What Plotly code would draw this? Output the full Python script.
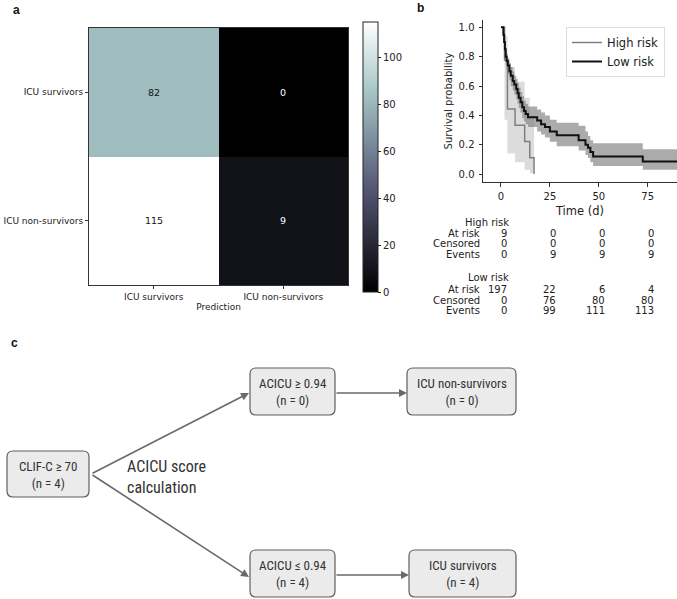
import plotly.graph_objects as go

W, H = 677, 599
def PX(x): return x / W
def PY(y): return 1 - y / H

# ---------------- data: panel a (confusion matrix) ----------------
cm_x = ["ICU survivors", "ICU non-survivors"]   # Prediction
cm_y = ["ICU survivors", "ICU non-survivors"]   # Truth
cm_z = [[82, 0],
        [115, 9]]
cm_zmax = 115
cbar_ticks = [0, 20, 40, 60, 80, 100]

# ---------------- data: panel b (Kaplan-Meier) ----------------
hr_t  = [0, 1.8, 3.3, 7.2, 12.1, 14.7, 16.9]
hr_s  = [1.0, 0.778, 0.444, 0.333, 0.222, 0.111, 0.0]
hr_lo = [1.0, 0.37, 0.14, 0.08, 0.03, 0.006, 0.0]
hr_hi = [1.0, 0.94, 0.73, 0.63, 0.52, 0.40, 0.0]

lr_t  = [0, 1.2, 1.6, 2.0, 2.4, 2.9, 3.5, 4.3, 5.0, 6.0, 6.8, 7.8, 8.5, 9.1, 10.0, 10.9,
         11.8, 12.6, 13.8, 18.5, 20.5, 22.5, 25.0, 28.5, 39.7, 43.2, 44.5, 45.7, 47.1, 72.5, 90.0]
lr_s  = [1.0, 0.95, 0.90, 0.85, 0.80, 0.77, 0.74, 0.70, 0.67, 0.635, 0.61, 0.58, 0.55, 0.52, 0.49, 0.455,
         0.43, 0.41, 0.387, 0.365, 0.34, 0.32, 0.29, 0.265, 0.23, 0.20, 0.18, 0.15, 0.12, 0.085, 0.085]
lr_lo = [1.0, 0.92, 0.86, 0.80, 0.74, 0.71, 0.68, 0.64, 0.60, 0.57, 0.54, 0.51, 0.48, 0.45, 0.42, 0.38,
         0.36, 0.34, 0.32, 0.29, 0.27, 0.25, 0.22, 0.19, 0.16, 0.13, 0.11, 0.08, 0.055, 0.03, 0.03]
lr_hi = [1.0, 0.97, 0.93, 0.89, 0.85, 0.82, 0.79, 0.76, 0.73, 0.70, 0.67, 0.65, 0.62, 0.59, 0.56, 0.53,
         0.50, 0.48, 0.46, 0.44, 0.42, 0.40, 0.37, 0.35, 0.33, 0.29, 0.26, 0.23, 0.21, 0.17, 0.17]

risk_times = [0, 25, 50, 75]
risk_groups = ["High risk", "Low risk"]
risk_rows = ["At risk", "Censored", "Events"]
high_at_risk = [9, 0, 0, 0]
high_censored = [0, 0, 0, 0]
high_events = [0, 9, 9, 9]
low_at_risk = [197, 22, 6, 4]
low_censored = [0, 76, 80, 80]
low_events = [0, 99, 111, 113]

# ---------------- data: panel c (flowchart) ----------------
node_labels = ["CLIF-C \u2265 70", "ACICU \u2265 0.94", "ICU non-survivors", "ACICU \u2264 0.94", "ICU survivors"]
node_counts = [4, 0, 0, 4, 4]
edges = [(0, 1), (0, 3), (1, 2), (3, 4)]
edge_label = "ACICU score<br>calculation"

# ---------------- layout constants (pixels) ----------------
node_boxes = [(7, 451, 89, 497), (250, 368, 335, 415), (407, 368, 516, 415),
              (250, 550, 335, 597), (409, 550, 516, 597)]

MPL = "DejaVu Sans"
NARROW = "Liberation Sans Narrow, Arial Narrow, Roboto Condensed, Roboto, sans-serif"
ARIAL = "Liberation Sans, Arial, sans-serif"

fig = go.Figure()

# bone colormap
bone = [[0.0, "rgb(0,0,0)"], [0.365, "rgb(81,81,113)"], [0.746, "rgb(166,198,198)"], [1.0, "rgb(255,255,255)"]]

fig.add_trace(go.Heatmap(
    x=cm_x, y=cm_y, z=cm_z, zmin=0, zmax=cm_zmax, colorscale=bone,
    xaxis="x", yaxis="y", showscale=True, xgap=0, ygap=0,
    colorbar=dict(x=PX(363), xanchor="left", y=PY(157), yanchor="middle",
                  len=270 / H, lenmode="fraction", thickness=15, thicknessmode="pixels",
                  xpad=0, ypad=0,
                  outlinewidth=1, outlinecolor="#222", tickvals=cbar_ticks, ticks="outside",
                  ticklen=3, tickcolor="#222", tickfont=dict(size=10, family=MPL, color="#222")),
    hoverinfo="skip"))

annotations = []
for i, yl in enumerate(cm_y):
    for j, xl in enumerate(cm_x):
        v = cm_z[i][j]
        annotations.append(dict(x=xl, y=yl, xref="x", yref="y", text=str(v), showarrow=False,
                                xanchor="center", yanchor="middle",
                                font=dict(size=9.5, family=MPL,
                                          color="#111" if v > cm_zmax / 2 else "#fff")))

# KM bands
def band(t, lo, hi, color):
    fig.add_trace(go.Scatter(x=t, y=lo, mode="lines", line=dict(width=0, shape="hv"),
                             xaxis="x2", yaxis="y2", showlegend=False, hoverinfo="skip"))
    fig.add_trace(go.Scatter(x=t, y=hi, mode="lines", line=dict(width=0, shape="hv"),
                             fill="tonexty", fillcolor=color,
                             xaxis="x2", yaxis="y2", showlegend=False, hoverinfo="skip"))

band(lr_t, lr_lo, lr_hi, "rgba(0,0,0,0.33)")
band(hr_t, hr_lo, hr_hi, "rgba(128,128,128,0.28)")

fig.add_trace(go.Scatter(x=hr_t, y=hr_s, mode="lines", name="High risk",
                         line=dict(color="#7f7f7f", width=1.5, shape="hv"),
                         xaxis="x2", yaxis="y2"))
fig.add_trace(go.Scatter(x=lr_t, y=lr_s, mode="lines", name="Low risk",
                         line=dict(color="#111", width=2, shape="hv"),
                         xaxis="x2", yaxis="y2"))

# risk table
group_tables = [
    (high_at_risk, high_censored, high_events),
    (low_at_risk, low_censored, low_events),
]
group_header_y = [222, 278]
row_dy = [11, 22, 32.5]
tfont = dict(size=10, family=MPL, color="#222")
for g, name in enumerate(risk_groups):
    y0 = group_header_y[g]
    annotations.append(dict(x=PX(511), y=PY(y0), xref="paper", yref="paper", text=name,
                            showarrow=False, xanchor="right", yanchor="middle", font=tfont))
    for r, rname in enumerate(risk_rows):
        yy = PY(y0 + row_dy[r])
        annotations.append(dict(x=PX(482), y=yy, xref="paper", yref="paper", text=rname,
                                showarrow=False, xanchor="right", yanchor="middle", font=tfont))
        for k, tt in enumerate(risk_times):
            annotations.append(dict(x=tt, y=yy, xref="x2", yref="paper",
                                    text=str(group_tables[g][r][k]), showarrow=False,
                                    xanchor="right", yanchor="middle", xshift=8.5, font=tfont))

# flowchart
shapes = []
def rrect(x0, y0, x1, y1, r=6):
    pts = (f"M {PX(x0+r)},{PY(y0)} L {PX(x1-r)},{PY(y0)} Q {PX(x1)},{PY(y0)} {PX(x1)},{PY(y0+r)} "
           f"L {PX(x1)},{PY(y1-r)} Q {PX(x1)},{PY(y1)} {PX(x1-r)},{PY(y1)} "
           f"L {PX(x0+r)},{PY(y1)} Q {PX(x0)},{PY(y1)} {PX(x0)},{PY(y1-r)} "
           f"L {PX(x0)},{PY(y0+r)} Q {PX(x0)},{PY(y0)} {PX(x0+r)},{PY(y0)} Z")
    return pts

for (x0, y0, x1, y1), lab, n in zip(node_boxes, node_labels, node_counts):
    shapes.append(dict(type="path", path=rrect(x0, y0, x1, y1), xref="paper", yref="paper",
                       fillcolor="#ebebeb", line=dict(color="#5f5f5f", width=1.2), layer="above"))
    annotations.append(dict(x=PX((x0 + x1) / 2), y=PY((y0 + y1) / 2 + 0.5), xref="paper", yref="paper",
                            text=f"{lab}<br>(n = {n})", showarrow=False, align="center",
                            xanchor="center", yanchor="middle",
                            font=dict(size=13, family=NARROW, color="#333")))

for a, b in edges:
    sx0, sy0, sx1, sy1 = node_boxes[a]
    tx0, ty0, tx1, ty1 = node_boxes[b]
    if a == 0:
        start = (sx1 + 2, (sy0 + sy1) / 2)
        end = (tx0 - 1, ty0 + 25 if ty0 < 450 else ty0 + 27)
    else:
        start = (sx1, (sy0 + sy1) / 2 + 1.5)
        end = (tx0, (ty0 + ty1) / 2 + 1.5)
    annotations.append(dict(x=PX(end[0]), y=PY(end[1]), xref="paper", yref="paper",
                            ax=start[0] - end[0], ay=start[1] - end[1], axref="pixel", ayref="pixel",
                            showarrow=True, arrowhead=2, arrowsize=1, arrowwidth=1.6,
                            arrowcolor="#6a6a6a", standoff=0, text=""))

annotations.append(dict(x=PX(125), y=PY(477), xref="paper", yref="paper", text=edge_label,
                        showarrow=False, xanchor="left", yanchor="middle", align="left",
                        font=dict(size=16, family=NARROW, color="#333")))

# panel labels
for lab, x, y in [("a", 16, 10), ("b", 420, 8), ("c", 14, 343)]:
    annotations.append(dict(x=PX(x), y=PY(y), xref="paper", yref="paper", text=f"<b>{lab}</b>",
                            showarrow=False, xanchor="center", yanchor="middle",
                            font=dict(size=12, family=ARIAL, color="#111")))

axfont = dict(size=9, family=MPL, color="#222")
kmfont = dict(size=10, family=MPL, color="#222")
fig.update_layout(
    width=W, height=H, margin=dict(l=0, r=0, t=0, b=0, autoexpand=False),
    paper_bgcolor="white", plot_bgcolor="white",
    font=dict(family=MPL, color="#222"),
    xaxis=dict(domain=[PX(89), PX(348)], anchor="y", showline=True, mirror=True, linecolor="#333",
               linewidth=1, ticks="outside", ticklen=3, tickcolor="#333", tickfont=axfont,
               title=dict(text="Prediction", font=axfont, standoff=2), showgrid=False, zeroline=False),
    yaxis=dict(domain=[PY(285), PY(28)], anchor="x", autorange="reversed", showline=True, mirror=True,
               linecolor="#333", linewidth=1, ticks="outside", ticklen=3, tickcolor="#333",
               tickfont=axfont, showgrid=False, zeroline=False),
    xaxis2=dict(domain=[PX(483), 1.0], anchor="y2", range=[-9.2, 90], tickvals=risk_times,
                showline=True, linecolor="#333", linewidth=1, ticks="outside", ticklen=3.5,
                tickcolor="#333", tickfont=kmfont, ticklabelstandoff=1,
                title=dict(text="Time (d)", font=dict(size=11.5, family=MPL, color="#222"), standoff=6),
                showgrid=False, zeroline=False),
    yaxis2=dict(domain=[PY(182), PY(20)], anchor="x2", range=[-0.054, 1.05],
                tickvals=[0, 0.2, 0.4, 0.6, 0.8, 1.0], tickformat=".1f",
                showline=True, linecolor="#333", linewidth=1, ticks="outside", ticklen=3.5,
                tickcolor="#333", tickfont=kmfont, ticklabelstandoff=2,
                title=dict(text="Survival probability", font=dict(size=10, family=MPL, color="#222"),
                           standoff=4),
                showgrid=False, zeroline=False),
    legend=dict(x=PX(566), y=PY(27), xanchor="left", yanchor="top", bgcolor="rgba(255,255,255,0.85)",
                bordercolor="#dddddd", borderwidth=1, font=dict(size=11.5, family=MPL, color="#222"),
                itemwidth=30, tracegroupgap=0, traceorder="normal"),
    annotations=annotations, shapes=shapes, showlegend=True,
)

fig.write_html("out.html", config={"displayModeBar": False},
               post_script="document.body.style.margin='0px';document.body.style.padding='0px';")
